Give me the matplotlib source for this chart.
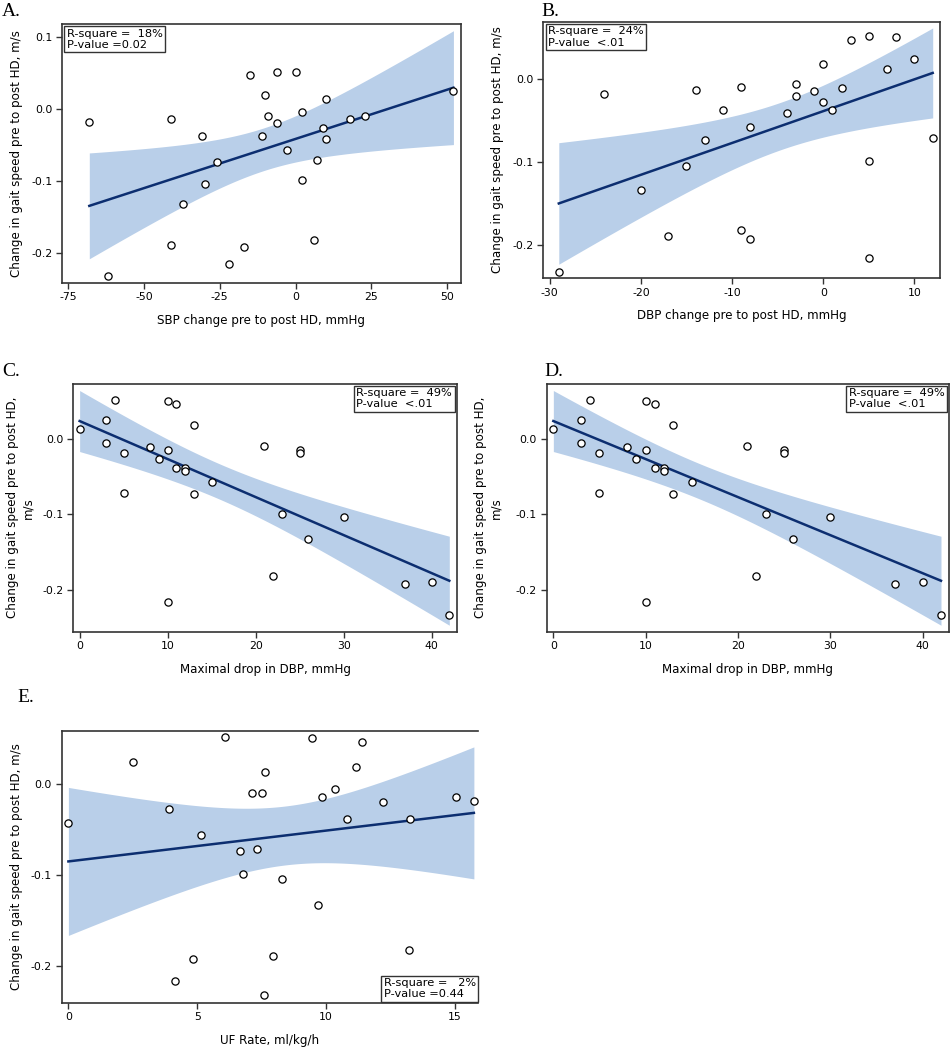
import numpy as np
import matplotlib
matplotlib.use("Agg")
import matplotlib.pyplot as plt

plt.rcParams['font.family'] = ['DejaVu Sans']
plt.rcParams['axes.unicode_minus'] = False

# --- data ----------------------------------------------------------------
# gait speed change (m/s) per panel, same 28 patients
sbp_change = [-68, -62, -41, -41, -37, -31, -30, -26, -22, -17, -15, -11, -10, -9,
              -6, -6, -3, 0, 2, 2, 6, 7, 9, 10, 10, 18, 23, 52]
gait_a = [-0.018, -0.232, -0.014, -0.190, -0.133, -0.038, -0.104, -0.074, -0.216,
          -0.192, 0.047, -0.038, 0.019, -0.010, 0.051, -0.020, -0.057, 0.051,
          -0.005, -0.099, -0.182, -0.071, -0.027, 0.013, -0.042, -0.014, -0.010, 0.025]

dbp_change = [-29, -24, -20, -17, -15, -14, -13, -11, -9, -9, -8, -8, -4, -3, -3,
              -1, 0, 0, 1, 2, 3, 5, 5, 5, 7, 8, 10, 12]
gait_b = [-0.232, -0.018, -0.133, -0.189, -0.104, -0.013, -0.073, -0.037, -0.009,
          -0.182, -0.057, -0.192, -0.041, -0.005, -0.020, -0.014, 0.019, -0.027,
          -0.037, -0.010, 0.047, 0.052, -0.099, -0.216, 0.013, 0.051, 0.025, -0.071]

max_dbp_drop = [0, 3, 3, 4, 5, 5, 8, 9, 10, 10, 10, 11, 11, 12, 12, 13, 13, 15,
                21, 22, 23, 25, 25, 26, 30, 37, 40, 42]
gait_c = [0.013, 0.025, -0.005, 0.052, -0.019, -0.071, -0.010, -0.027, 0.051,
          -0.014, -0.216, 0.047, -0.038, -0.038, -0.042, 0.019, -0.073, -0.057,
          -0.009, -0.182, -0.099, -0.014, -0.018, -0.133, -0.104, -0.192, -0.190, -0.233]

uf_rate = [0, 2.5, 3.9, 4.14, 4.84, 5.15, 6.07, 6.65, 6.79, 7.13, 7.34, 7.5, 7.58,
           7.65, 7.96, 8.28, 9.44, 9.68, 9.83, 10.36, 10.83, 11.16, 11.38, 12.2,
           13.23, 13.26, 15.06, 15.74]
gait_e = [-0.042, 0.025, -0.027, -0.216, -0.192, -0.056, 0.052, -0.073, -0.099,
          -0.009, -0.071, -0.010, -0.232, 0.014, -0.189, -0.104, 0.051, -0.133,
          -0.014, -0.005, -0.038, 0.019, 0.047, -0.019, -0.182, -0.038, -0.014, -0.018]

stats_a = "R-square =  18%\nP-value =0.02"
stats_b = "R-square =  24%\nP-value  <.01"
stats_c = "R-square =  49%\nP-value  <.01"
stats_e = "R-square =   2%\nP-value =0.44"

BAND = '#b9cfe9'
LINE = '#0c2e70'
SPINE = '#333333'
W, H = 950, 1050


def px_rect(l, t, r, b):
    return [l / W, 1 - b / H, (r - l) / W, (b - t) / H]


def fit_plot(ax, x, y):
    x = np.asarray(x, float)
    y = np.asarray(y, float)
    n = len(x)
    b1, b0 = np.polyfit(x, y, 1)
    resid = y - (b0 + b1 * x)
    s = np.sqrt(np.sum(resid ** 2) / (n - 2))
    xs = np.linspace(x.min(), x.max(), 200)
    se = s * np.sqrt(1 / n + (xs - x.mean()) ** 2 / np.sum((x - x.mean()) ** 2))
    t = 2.056  # t(0.975, 26)
    yhat = b0 + b1 * xs
    ax.fill_between(xs, yhat - t * se, yhat + t * se, color=BAND, lw=0, zorder=1)
    ax.plot(xs, yhat, color=LINE, lw=1.8, zorder=2)
    ax.plot(x, y, 'o', mfc='white', mec='black', ms=5.2, mew=0.9, zorder=3)


def style(ax, xticks, yticks, xlim, ylim, xlabel, ylabel, ypad=6):
    ax.set_xlim(*xlim)
    ax.set_ylim(*ylim)
    ax.set_xticks(xticks)
    ax.set_yticks(yticks)
    ax.set_yticklabels(['%.1f' % v for v in yticks])
    ax.tick_params(direction='out', length=4, width=1, color=SPINE,
                   labelsize=7.8, pad=3, top=False, right=False)
    for sp in ax.spines.values():
        sp.set_color(SPINE)
        sp.set_linewidth(1.2)
    ax.set_xlabel(xlabel, fontsize=8.6, labelpad=8)
    ax.set_ylabel(ylabel, fontsize=8.6, labelpad=ypad)


def stats_box(ax, txt, x, y, ha, va):
    ax.text(x, y, txt, transform=ax.transAxes, ha=ha, va=va, fontsize=8.2,
            multialignment='left', linespacing=1.15, zorder=5,
            bbox=dict(boxstyle='square,pad=0.22', fc='white', ec=SPINE, lw=1))


fig = plt.figure(figsize=(9.5, 10.5), dpi=100)

ylab1 = 'Change in gait speed pre to post HD, m/s'
ylab2 = 'Change in gait speed pre to post HD,\nm/s'

# A
axA = fig.add_axes(px_rect(62, 24, 460.7, 282.7))
fit_plot(axA, sbp_change, gait_a)
style(axA, [-75, -50, -25, 0, 25, 50], [-0.2, -0.1, 0.0, 0.1],
      (-77.0, 54.4), (-0.2417, 0.1176), 'SBP change pre to post HD, mmHg', ylab1)
stats_box(axA, stats_a, 0.012, 0.982, 'left', 'top')

# B
axB = fig.add_axes(px_rect(543.3, 21.7, 940, 278.3))
fit_plot(axB, dbp_change, gait_b)
style(axB, [-30, -20, -10, 0, 10], [-0.2, -0.1, 0.0],
      (-30.7, 12.8), (-0.240, 0.0696), 'DBP change pre to post HD, mmHg', ylab1)
stats_box(axB, stats_b, 0.012, 0.982, 'left', 'top')

# C
axC = fig.add_axes(px_rect(73.3, 383.7, 456.7, 631.7))
fit_plot(axC, max_dbp_drop, gait_c)
style(axC, [0, 10, 20, 30, 40], [-0.2, -0.1, 0.0],
      (-0.72, 42.84), (-0.2558, 0.0735), 'Maximal drop in DBP, mmHg', ylab2)
stats_box(axC, stats_c, 0.988, 0.982, 'right', 'top')

# D (same data as C)
axD = fig.add_axes(px_rect(546.7, 383.7, 949.3, 631.7))
fit_plot(axD, max_dbp_drop, gait_c)
style(axD, [0, 10, 20, 30, 40], [-0.2, -0.1, 0.0],
      (-0.72, 42.9), (-0.2558, 0.0735), 'Maximal drop in DBP, mmHg', ylab2, ypad=10)
stats_box(axD, stats_c, 0.988, 0.982, 'right', 'top')

# E
axE = fig.add_axes(px_rect(61.7, 730.7, 478, 1002.7))
fit_plot(axE, uf_rate, gait_e)
style(axE, [0, 5, 10, 15], [-0.2, -0.1, 0.0],
      (-0.26, 15.9), (-0.240, 0.059), 'UF Rate, ml/kg/h', ylab1)
axE.spines['right'].set_visible(False)
stats_box(axE, stats_e, 0.995, 0.012, 'right', 'bottom')

# panel letters
for letter, (px, py) in zip('ABCDE', [(2, 12), (541, 12), (2, 372), (544, 372), (17, 697)]):
    fig.text(px / W, 1 - py / H, letter + '.', family='Liberation Serif',
             fontsize=14, ha='left', va='center')

fig.savefig('out.png', dpi=100)
